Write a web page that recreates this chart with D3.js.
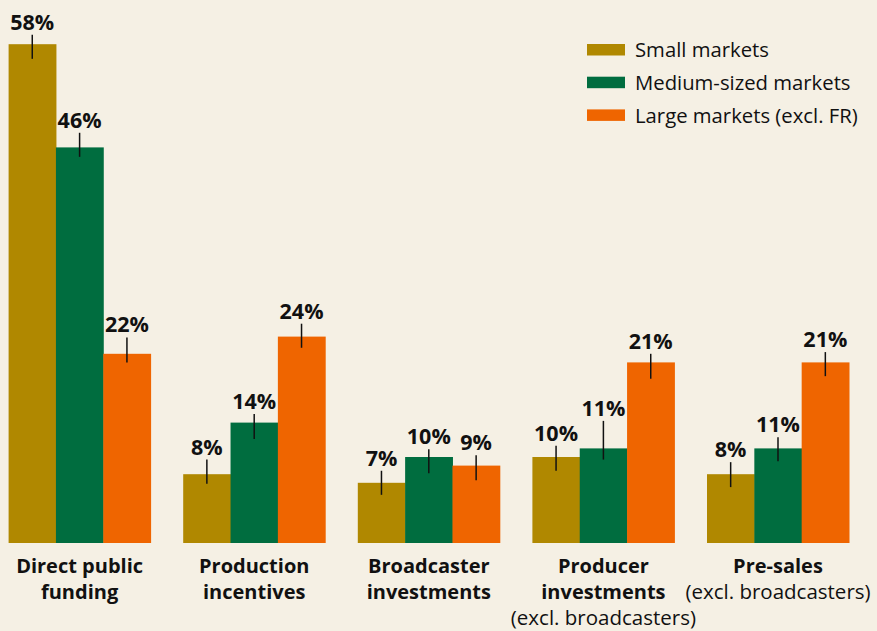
<!DOCTYPE html>
<html>
<head>
<meta charset="utf-8">
<script src="https://cdn.jsdelivr.net/npm/d3@7"></script>
<style>
  html, body { margin: 0; padding: 0; background: #f5f0e4; }
  svg { display: block; }
</style>
</head>
<body>
<svg id="chart" width="877" height="631"></svg>
<script>
// ---- data ----
const categories = ["Direct public funding", "Production incentives", "Broadcaster investments", "Producer investments", "Pre-sales"];
const categoryLines = [
  [["Direct public", true], ["funding", true]],
  [["Production", true], ["incentives", true]],
  [["Broadcaster", true], ["investments", true]],
  [["Producer", true], ["investments", true], ["(excl. broadcasters)", false]],
  [["Pre-sales", true], ["(excl. broadcasters)", false]]
];
const seriesNames = ["Small markets", "Medium-sized markets", "Large markets (excl. FR)"];
const smallValues  = [58, 8, 7, 10, 8];
const mediumValues = [46, 14, 10, 11, 11];
const largeValues  = [22, 24, 9, 21, 21];
const smallLow   = [56.3, 6.9, 5.6, 8.4, 6.5];
const smallHigh  = [59.1, 9.7, 8.4, 11.3, 9.4];
const mediumLow  = [44.9, 12.1, 8.1, 9.7, 9.5];
const mediumHigh = [47.7, 15.0, 10.9, 14.2, 12.3];
const largeLow   = [21.0, 22.7, 7.3, 19.1, 19.4];
const largeHigh  = [23.9, 25.5, 10.2, 22.0, 22.2];
const colors = ["#b08800", "#006d3f", "#ef6500"];

const seriesValues = [smallValues, mediumValues, largeValues];
const seriesLow = [smallLow, mediumLow, largeLow];
const seriesHigh = [smallHigh, mediumHigh, largeHigh];

const FONT = "'Open Sans', sans-serif";
const svg = d3.select("#chart");
const W = 877, H = 631;
svg.append("rect").attr("width", W).attr("height", H).attr("fill", "#f5f0e4");

const x0 = d3.scaleBand().domain(categories).range([8.6, 849]).paddingInner(0.1867).paddingOuter(0);
const x1 = d3.scaleBand().domain(seriesNames).range([0, x0.bandwidth()]).padding(0);
const y = d3.scaleLinear().domain([0, 60]).range([543, 543 - 60 * 8.6]);

const rows = [];
categories.forEach((c, i) => {
  seriesNames.forEach((s, j) => {
    rows.push({ cat: c, ser: s, j, v: seriesValues[j][i], lo: seriesLow[j][i], hi: seriesHigh[j][i] });
  });
});

const g = svg.append("g");
g.selectAll("rect.bar").data(rows).enter().append("rect")
  .attr("class", "bar")
  .attr("x", d => x0(d.cat) + x1(d.ser))
  .attr("width", x1.bandwidth() + 0.5)
  .attr("y", d => y(d.v))
  .attr("height", d => y(0) - y(d.v))
  .attr("fill", d => colors[d.j]);

g.selectAll("line.err").data(rows).enter().append("line")
  .attr("class", "err")
  .attr("x1", d => x0(d.cat) + x1(d.ser) + x1.bandwidth() / 2)
  .attr("x2", d => x0(d.cat) + x1(d.ser) + x1.bandwidth() / 2)
  .attr("y1", d => y(d.hi))
  .attr("y2", d => y(d.lo))
  .attr("stroke", "#111")
  .attr("stroke-width", 1.5);

g.selectAll("text.val").data(rows).enter().append("text")
  .attr("class", "val")
  .attr("x", d => x0(d.cat) + x1(d.ser) + x1.bandwidth() / 2)
  .attr("y", d => y(d.hi) - 5)
  .attr("text-anchor", "middle")
  .attr("font-family", FONT)
  .attr("font-weight", "bold")
  .attr("font-size", 21.5)
  .attr("fill", "#111")
  .text(d => d.v + "%");

// category labels
categories.forEach((c, i) => {
  const cx = x0(c) + x0.bandwidth() / 2;
  categoryLines[i].forEach((ln, k) => {
    svg.append("text")
      .attr("x", cx)
      .attr("y", 573 + k * 26)
      .attr("text-anchor", "middle")
      .attr("font-family", FONT)
      .attr("font-weight", ln[1] ? "bold" : "normal")
      .attr("font-size", ln[1] ? 20 : 20.5)
      .attr("fill", "#111")
      .text(ln[0]);
  });
});

// legend
const leg = svg.append("g");
seriesNames.forEach((s, j) => {
  leg.append("rect").attr("x", 587).attr("y", 44 + j * 32.7).attr("width", 38).attr("height", 11.5).attr("fill", colors[j]);
  leg.append("text").attr("x", 635).attr("y", 57.3 + j * 32.7)
    .attr("font-family", FONT).attr("font-size", 20.3).attr("fill", "#111").text(s);
});
</script>
</body>
</html>
